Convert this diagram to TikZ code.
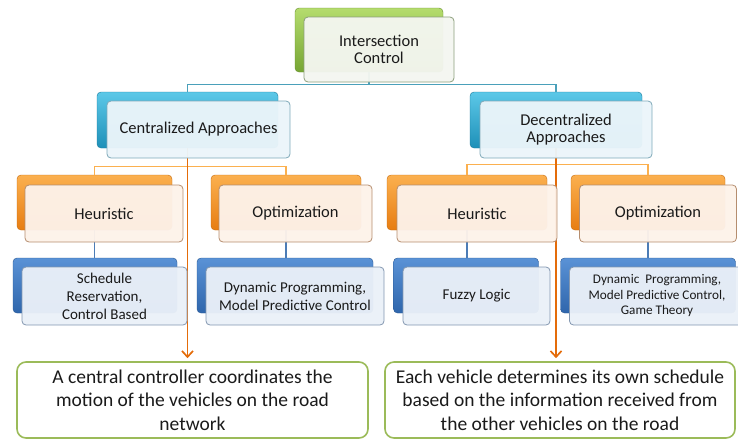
\documentclass[tikz,border=0pt]{standalone}
\usepackage{fontspec}
\setmainfont{Carlito}
\usetikzlibrary{arrows.meta, calc}
\definecolor{greentop}{HTML}{B5DC6E}
\definecolor{greenbot}{HTML}{76A533}
\definecolor{greenfill}{HTML}{F4F6F0}
\definecolor{greenedge}{HTML}{8C9E7C}
\definecolor{cyantop}{HTML}{5CC8E8}
\definecolor{cyanbot}{HTML}{1E90B8}
\definecolor{cyanfill}{HTML}{EBF5FA}
\definecolor{cyanedge}{HTML}{7FA8B8}
\definecolor{orangetop}{HTML}{FBB04F}
\definecolor{orangebot}{HTML}{E77D12}
\definecolor{orangefill}{HTML}{FDF2E9}
\definecolor{orangeedge}{HTML}{B58D6E}
\definecolor{bluetop}{HTML}{5A92D6}
\definecolor{bluebot}{HTML}{2F66AC}
\definecolor{bluefill}{HTML}{EAF0F8}
\definecolor{blueedge}{HTML}{8397B0}
\definecolor{notegreen}{HTML}{9BBB59}
\definecolor{darkorange}{HTML}{E46C0A}
\definecolor{textgray}{HTML}{1A1A1A}

\begin{document}
\begin{tikzpicture}[x=1pt, y=-1pt,
  boxsize/.style 2 args={minimum width=#1pt, minimum height=#2pt},
  backbox/.style 2 args={rounded corners=4pt, inner sep=0pt, draw=#2!85!black,
    top color=#1, bottom color=#2},
  frontbox/.style 2 args={rounded corners=4pt, inner sep=2pt, align=center,
    fill=#1, draw=#2, line width=0.8pt, fill opacity=0.96, text opacity=1,
    text=textgray, font=\fontsize{16.5}{17}\selectfont},
  leafbox/.style={font=\fontsize{15}{18}\selectfont},
  note/.style={rounded corners=9pt, draw=notegreen, line width=1.6pt, fill=white,
    align=center, text=textgray, font=\fontsize{19.5}{23.5}\selectfont},
  link/.style={draw=#1, line width=1.3pt}]
\useasboundingbox (0,0) rectangle (738,440);

% Back boxes
\node[backbox={greentop}{greenbot}, boxsize={148}{64}] (root-b) at (369,40) {};
\node[backbox={cyantop}{cyanbot}, boxsize={181}{56}] (cen-b) at (187.5,120) {};
\node[backbox={cyantop}{cyanbot}, boxsize={172}{56}] (dec-b) at (556,120) {};

\node[backbox={orangetop}{orangebot}, boxsize={155}{55}] (ch-b) at (94.5,202.5) {};
\node[backbox={orangetop}{orangebot}, boxsize={150}{55}] (co-b) at (286,202.5) {};
\node[backbox={orangetop}{orangebot}, boxsize={160}{55}] (dh-b) at (467,202.5) {};
\node[backbox={orangetop}{orangebot}, boxsize={154}{55}] (do-b) at (648,202.5) {};

\node[backbox={bluetop}{bluebot}, boxsize={164}{55}] (ca-b) at (95,285.5) {};
\node[backbox={bluetop}{bluebot}, boxsize={176}{55}] (cb-b) at (285,285.5) {};
\node[backbox={bluetop}{bluebot}, boxsize={145}{55}] (da-b) at (466,285.5) {};
\node[backbox={bluetop}{bluebot}, boxsize={175}{55}] (db-b) at (648,285.5) {};

% Notes
\node[note, boxsize={351}{76}] (cnote) at (192.5,400)
  {A central controller coordinates the\\motion of the vehicles on the road\\network};
\node[note, boxsize={350}{76}] (dnote) at (560,400)
  {Each vehicle determines its own schedule\\based on the information received from\\the other vehicles on the road};

% Connectors
\draw[link=cyantop!80!black] (root-b.south) -- ++(0,12) -| (cen-b.north);
\draw[link=cyantop!80!black] (root-b.south) -- ++(0,12) -| (dec-b.north);
\draw[link=orangetop] (cen-b.south) -- ++(0,18) -| (ch-b.north);
\draw[link=orangetop] (cen-b.south) -- ++(0,18) -| (co-b.north);
\draw[link=orangetop] (dec-b.south) -- ++(0,16) -| (dh-b.north);
\draw[link=orangetop] (dec-b.south) -- ++(0,16) -| (do-b.north);
\draw[link=bluetop!85!black] (ch-b.south) -- (ch-b.south |- ca-b.north);
\draw[link=bluetop!85!black] (co-b.south) -- (co-b.south |- cb-b.north);
\draw[link=bluetop!85!black] (dh-b.south) -- (dh-b.south |- da-b.north);
\draw[link=bluetop!85!black] (do-b.south) -- (do-b.south |- db-b.north);

% Arrows
\draw[link=darkorange, line width=1.7pt, -{Straight Barb[length=6pt, width=11pt]}, shorten >=3pt]
  (cen-b.south) -- (cen-b.south |- cnote.north);
\draw[link=darkorange, line width=1.7pt, -{Straight Barb[length=6pt, width=11pt]}, shorten >=3pt]
  (dec-b.south) -- (dec-b.south |- dnote.north);

% Front boxes
\node[frontbox={greenfill}{greenedge}, boxsize={150}{65}] (root) at ($(root-b)+(10,9.5)$) {Intersection\\Control};
\node[frontbox={cyanfill}{cyanedge}, boxsize={183}{57}] (cen) at ($(cen-b)+(11,9.5)$) {Centralized Approaches};
\node[frontbox={cyanfill}{cyanedge}, boxsize={172}{57}] (dec) at ($(dec-b)+(10,9.5)$) {Decentralized\\Approaches};

\node[frontbox={orangefill}{orangeedge}, boxsize={158}{57}] (ch) at ($(ch-b)+(9.5,11)$) {Heuristic};
\node[frontbox={orangefill}{orangeedge}, boxsize={153}{57}] (co) at ($(co-b)+(9.5,11)$) {Optimization};
\node[frontbox={orangefill}{orangeedge}, boxsize={160}{57}] (dh) at ($(dh-b)+(10,11)$) {Heuristic};
\node[frontbox={orangefill}{orangeedge}, boxsize={157}{57}] (do) at ($(do-b)+(10,11)$) {Optimization};

\node[frontbox={bluefill}{blueedge}, leafbox, boxsize={165}{58}] (ca) at ($(ca-b)+(9.5,10.5)$) {Schedule\\Reservation,\\Control Based};
\node[frontbox={bluefill}{blueedge}, leafbox, boxsize={178}{58}] (cb) at ($(cb-b)+(10,10.5)$) {Dynamic Programming,\\Model Predictive Control};
\node[frontbox={bluefill}{blueedge}, leafbox, boxsize={147}{58}] (da) at ($(da-b)+(10.5,10.5)$) {Fuzzy Logic};
\node[frontbox={bluefill}{blueedge}, leafbox, font=\fontsize{13.2}{15.5}\selectfont, boxsize={175}{58}] (db) at ($(db-b)+(9,10.5)$) {Dynamic~ Programming,\\Model Predictive Control,\\Game Theory};

\end{tikzpicture}
\end{document}
